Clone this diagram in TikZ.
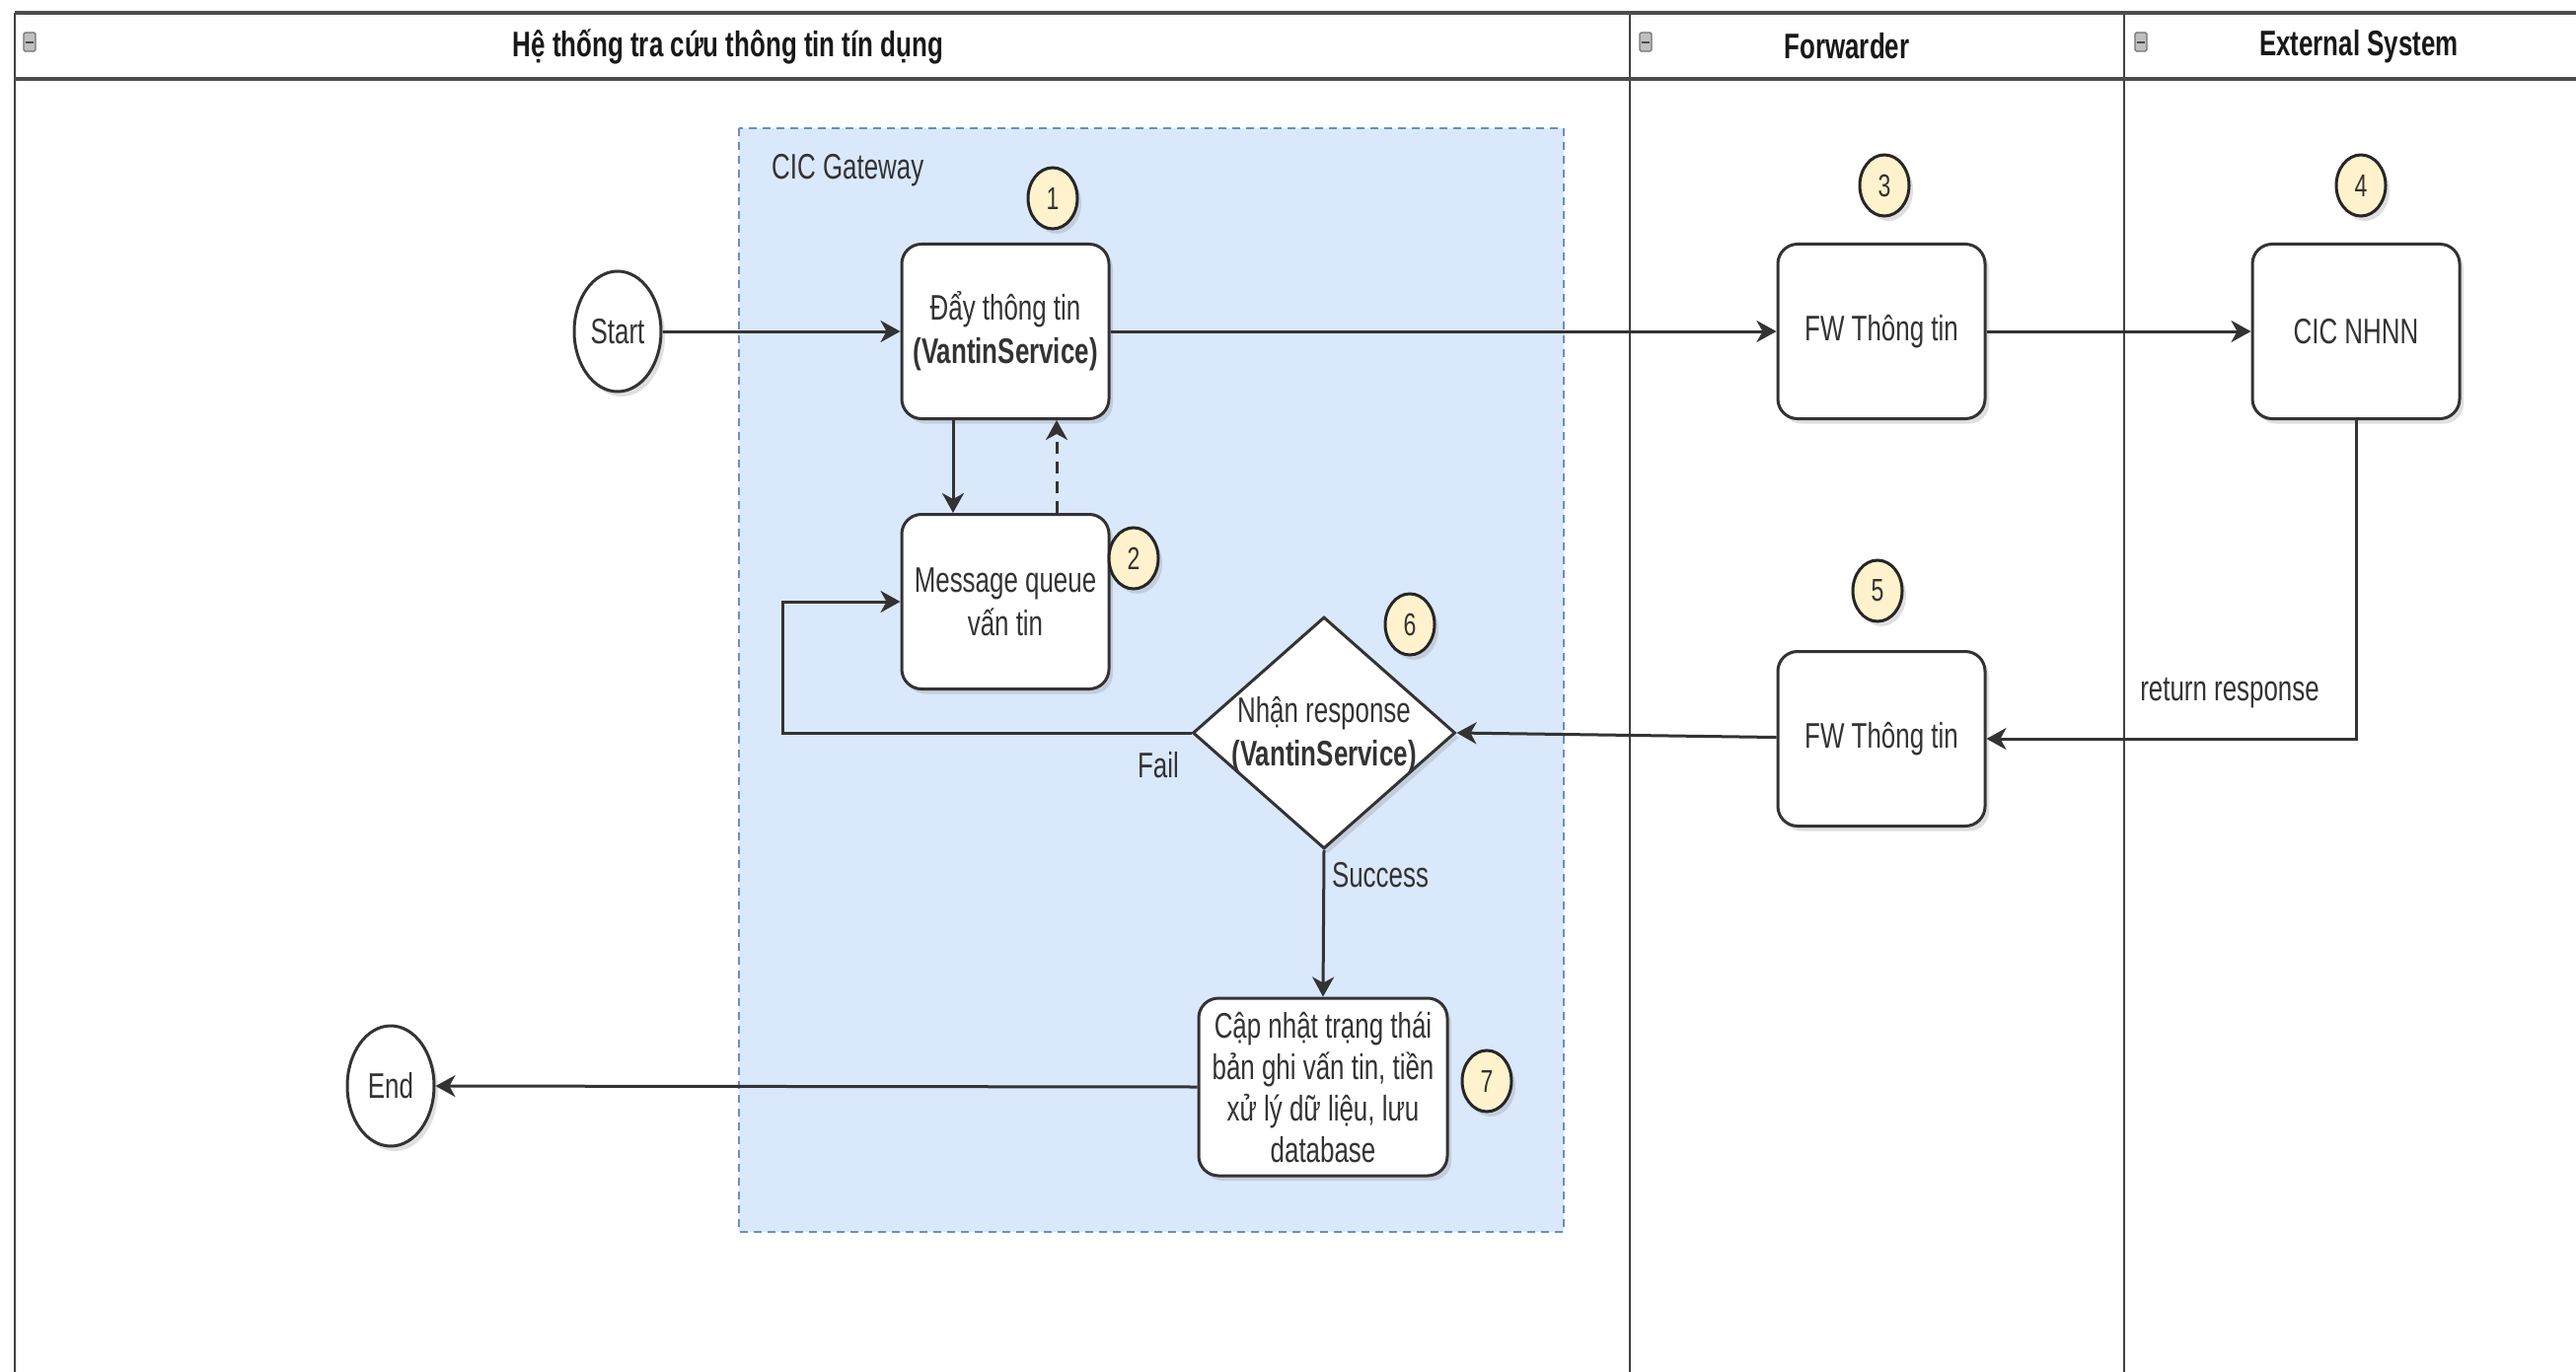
\documentclass[tikz,border=0pt]{standalone}
\usepackage{fontspec}
\setmainfont{Liberation Sans}[FakeStretch=0.72]
\usetikzlibrary{arrows.meta,shapes.geometric,shadows}
\definecolor{gwfill}{HTML}{DAE8FC}
\definecolor{gwline}{HTML}{6C8EBF}
\definecolor{badgefill}{HTML}{FFF2CC}
\definecolor{ink}{HTML}{333333}
\begin{document}
\begin{tikzpicture}[x=1pt,y=-1pt,
  shad/.style={drop shadow={shadow xshift=4pt,shadow yshift=-5pt,opacity=0.25}},
  txt/.style={font=\fontsize{36}{44}\selectfont, text=ink},
  box/.style={txt, draw=ink, line width=3pt, rounded corners=20pt, fill=white, shad,
    minimum width=210pt, minimum height=177pt, align=center, inner sep=4pt},
  circ/.style={txt, ellipse, draw=ink, line width=3pt, fill=white, shad,
    minimum width=88pt, minimum height=122pt, inner sep=0pt},
  badge/.style={ellipse, draw=black!85, line width=3pt, fill=badgefill, shad,
    minimum width=50pt, minimum height=62pt, inner sep=0pt,
    font=\fontsize{32}{36}\selectfont, text=ink},
  conn/.style={draw=ink, line width=3pt, -{Stealth[length=20pt,width=22pt,inset=6pt]}},
  lane/.style={draw=black!75, line width=2.5pt},
  head/.style={draw=black!70, line width=4pt},
  htitle/.style={font=\bfseries\fontsize{36}{42}\selectfont, text=black!90},
  lbl/.style={txt, inner sep=0pt}]
\useasboundingbox (0,0) rectangle (2611,1391);
\fill[white] (0,0) rectangle (2611,1391);

% swimlane frame
\draw[lane] (15,13) -- (15,1391);
\draw[lane] (1652,13) -- (1652,1391);
\draw[lane] (2153,13) -- (2153,1391);
\draw[head] (15,13) -- (2611,13);
\draw[head] (15,80) -- (2611,80);
\foreach \ix in {30,1668,2170}{
  \draw[draw=black!55, fill=black!25, line width=1.2pt, rounded corners=1.5pt] (\ix-6,33) rectangle (\ix+6,52);
  \draw[black!70, line width=1.5pt] (\ix-4,43) -- (\ix+4,43);
}
\node[htitle] (t1) at (738,47) {Hệ thống tra cứu thông tin tín dụng};
\node[htitle] (t2) at (1872,47) {Forwarder};
\node[htitle] (t3) at (2391,47) {External System};

% CIC Gateway group
\draw[fill=gwfill, draw=gwline, line width=2.5pt, dash pattern=on 8pt off 6pt] (749,130) rectangle (1585,1249);
\node[lbl, anchor=west] (gw) at (782,173) {CIC Gateway};

% nodes
\node[circ] (start) at (626,336) {Start};
\node[box] (b1) at (1019,336) {Đẩy thông tin\\\textbf{(VantinService)}};
\node[box] (b2) at (1019,610) {Message queue\\vấn tin};
\node[box] (b3) at (1907,336) {FW Thông tin};
\node[box] (b4) at (2388,336) {CIC NHNN};
\node[box] (b5) at (1907,749) {FW Thông tin};
\node[diamond, draw=ink, line width=3pt, fill=white, shad, minimum width=266pt, minimum height=235pt, inner sep=0pt] (d6) at (1342,743) {};
\node[txt, align=center] (d6t) at (1342,745) {Nhận response\\\textbf{(VantinService)}};
\node[box, minimum width=252pt, minimum height=180pt, font=\fontsize{36}{42}\selectfont] (b7) at (1341,1102) {Cập nhật trạng thái\\bản ghi vấn tin, tiền\\xử lý dữ liệu, lưu\\database};
\node[circ] (end) at (396,1101) {End};

% badges
\node[badge] (n1) at (1067,201) {1};
\node[badge] (n2) at (1149,566) {2};
\node[badge] (n3) at (1910,188) {3};
\node[badge] (n4) at (2393,188) {4};
\node[badge] (n5) at (1903,599) {5};
\node[badge] (n6) at (1429,633) {6};
\node[badge] (n7) at (1507,1096) {7};

% connectors
\coordinate (failturn) at (793,743);
\draw[conn] (start) -- (b1);
\draw[conn] (b1) -- (b3);
\draw[conn] (b3) -- (b4);
\draw[conn] (b4.south) |- (b5.east);
\draw[conn] (b5) -- (d6.east);
\draw[conn] (d6.west) -- (failturn) |- (b2.west);
\draw[conn] (d6.south) -- (b7.north);
\draw[conn] (b7.west) -- (end);
\draw[conn] ([xshift=-53pt]b1.south) -- ([xshift=-53pt]b2.north);
\draw[conn, dash pattern=on 12pt off 8pt] ([xshift=52pt]b2.north) -- ([xshift=52pt]b1.south);

% labels
\node[lbl] (lfail) at (1174,776) {Fail};
\node[lbl] (lsucc) at (1399,887) {Success};
\node[lbl] (lret) at (2260,703) {return response};
\end{tikzpicture}
\end{document}
